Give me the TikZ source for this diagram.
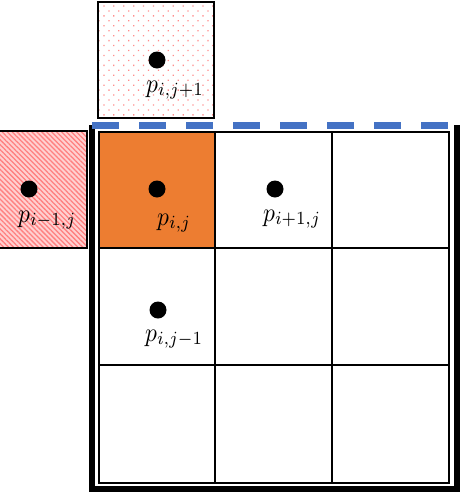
\documentclass[tikz,border=0pt]{standalone}
\usetikzlibrary{patterns.meta}
\definecolor{cellorange}{HTML}{ED7D31}
\definecolor{edgeblue}{HTML}{4472C4}
\newcommand{\biglbl}[1]{\scalebox{2.35}[2.65]{$#1$}}
\begin{document}
\begin{tikzpicture}[x=1pt,y=-1pt,
  gridline/.style={line width=1.5pt},
  boxline/.style={line width=1.3pt},
  thickframe/.style={line width=6pt,line join=miter},
  ptdot/.style={circle,fill=black,inner sep=0pt,minimum size=17pt},
  lbl/.style={anchor=base west,inner sep=0pt}]
\useasboundingbox (0,0) rectangle (463,496);
% top neighbour box (dotted)
\draw[boxline,pattern={Dots[distance=7pt,angle=45,radius=0.9pt]},pattern color=red!45] (98,2) rectangle (214,118);
% left neighbour box (hatched)
\fill[red!18] (0,131) rectangle (87,248);
\fill[pattern={Lines[angle=-45,distance=3.5pt,line width=1.3pt]},pattern color=red!50] (0,131) rectangle (87,248);
\draw[boxline] (0,131) -- (87,131) -- (87,248) -- (0,248);
% orange cell
\fill[cellorange] (99,132) rectangle (215,248);
% grid
\draw[gridline] (99,132) rectangle (449,483);
\draw[gridline] (215,132) -- (215,483);
\draw[gridline] (332,132) -- (332,483);
\draw[gridline] (99,248) -- (449,248);
\draw[gridline] (99,365) -- (449,365);
% thick outer frame
\draw[thickframe] (91.5,125) -- (91.5,488.5) -- (456.5,488.5) -- (456.5,125);
% dashed blue top edge
\draw[edgeblue,line width=7pt,dash pattern=on 27pt off 20pt] (92,125) -- (448,125);
% points and labels
\node[ptdot] (d1) at (157,60) {};
\node[lbl] (l1) at (146,92) {\biglbl{p_{i,j+1}}};
\node[ptdot] (d2) at (29,189) {};
\node[lbl] (l2) at (18,222) {\biglbl{p_{i-1,j}}};
\node[ptdot] (d3) at (157,189) {};
\node[lbl] (l3) at (157,225) {\biglbl{p_{i,j}}};
\node[ptdot] (d4) at (275,189) {};
\node[lbl] (l4) at (263,221) {\biglbl{p_{i+1,j}}};
\node[ptdot] (d5) at (158,310) {};
\node[lbl] (l5) at (145,341) {\biglbl{p_{i,j-1}}};
\end{tikzpicture}
\end{document}
